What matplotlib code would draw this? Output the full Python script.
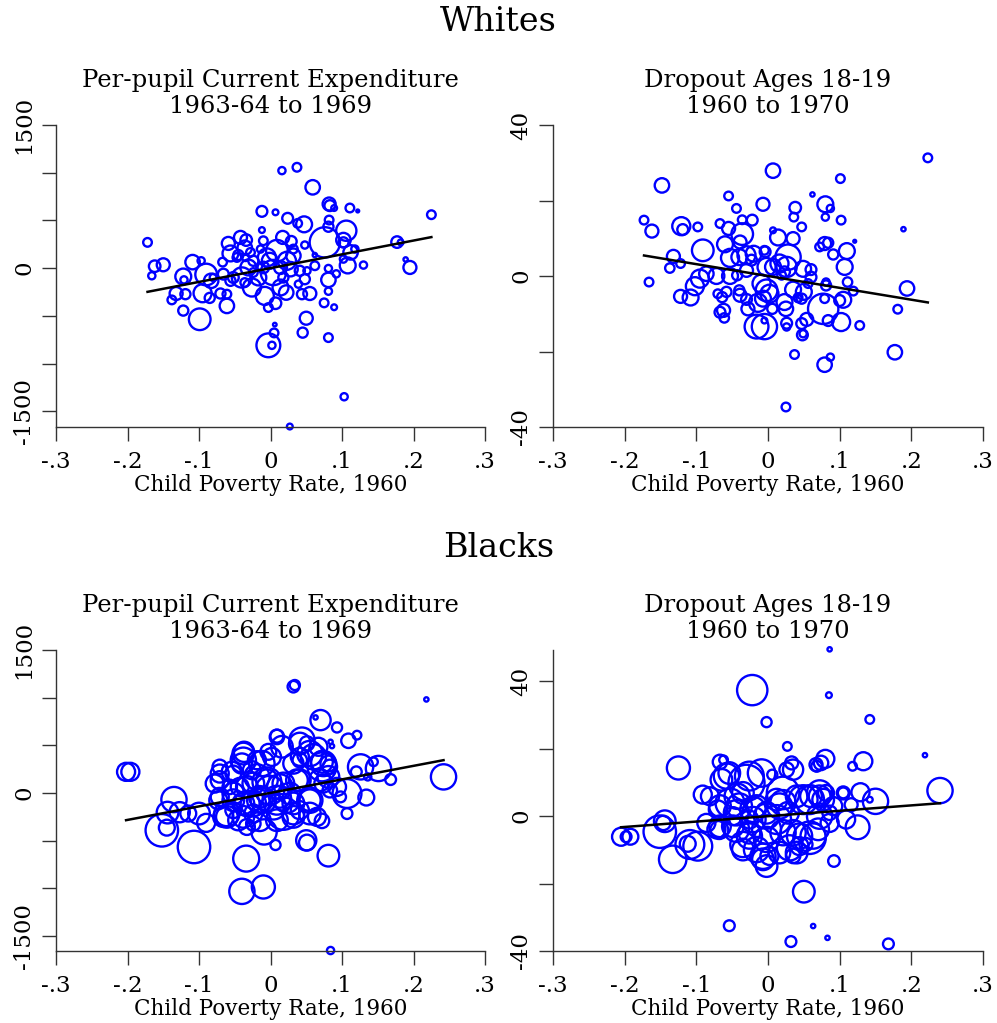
import numpy as np
import matplotlib
matplotlib.use('Agg')
import matplotlib.pyplot as plt

plt.rcParams['font.family'] = ['DejaVu Serif']

# ---------------- Whites, per-pupil current expenditure ----------------
wx_exp = [-0.172, -0.162, -0.150, -0.166, -0.109, -0.097, -0.122, -0.121, -0.132, -0.119,
          -0.138, -0.122, -0.099, -0.090, -0.095, -0.085, -0.083, -0.070, -0.061, -0.061,
          -0.067, -0.059, -0.056, -0.042, -0.034, -0.036, -0.045, -0.040, -0.026, -0.012,
          -0.010, -0.012, 0.007, 0.016, 0.037, 0.059, 0.082, 0.083, 0.089, 0.111,
          0.122, 0.024, 0.038, 0.047, 0.082, 0.081, 0.106, 0.076, 0.017, 0.029,
          0.048, 0.102, 0.102, 0.118, 0.112, 0.108, 0.102, 0.130, 0.177, 0.182,
          0.225, 0.189, 0.195, 0.081, 0.092, 0.081, 0.081, 0.075, 0.089, 0.050,
          0.045, 0.081, 0.103, 0.027, 0.006, 0.005, -0.003, 0.002, -0.003, 0.007,
          -0.008, -0.017, 0.004, -0.005, 0.009, 0.023, 0.032, 0.028, 0.041, 0.022,
          0.014, 0.044, 0.055, 0.048, 0.062, 0.051, 0.039, -0.024, -0.031, -0.047,
          -0.052, -0.056, -0.066, -0.036, -0.010, -0.001, 0.014, -0.080, -0.024, 0.018,
          0.032, -0.028, -0.035, -0.014, 0.062]
wy_exp = [270, 20, 35, -80, 63, 77, -88, -123, -266, -273,
          -333, -445, -536, -67, -263, -312, -133, -266, -273, -396,
          63, 259, 154, 322, 294, 214, 137, -98, -203, 399,
          287, 595, 585, 1022, 1057, 847, 672, 655, 630, 630,
          599, 522, 469, 459, 504, 434, 392, 270, 322, 280,
          242, 294, 270, 200, 165, 28, 95, 32, 273, 270,
          560, 91, 7, -4, -60, -123, -242, -364, -410, -525,
          -676, -728, -1348, -1660, -592, -679, -809, -809, -413, -368,
          -291, -98, -46, 112, 182, 77, 130, -11, -28, -256,
          -203, -273, -266, -116, 25, -28, -168, 77, 7, 112,
          -98, -133, -63, -151, 7, 77, 7, -98, -46, -98,
          200, 165, 112, 200, 137]
ww_exp = [12, 16, 18, 10, 20, 10, 22, 10, 18, 14,
          12, 14, 30, 30, 25, 14, 20, 14, 12, 20,
          12, 18, 22, 18, 16, 20, 14, 28, 25, 8,
          12, 15, 8, 10, 12, 20, 18, 15, 8, 12,
          4, 15, 12, 22, 12, 14, 28, 42, 18, 15,
          10, 20, 14, 10, 20, 22, 10, 10, 16, 8,
          12, 6, 18, 10, 10, 20, 10, 12, 8, 18,
          14, 12, 10, 8, 5, 12, 33, 10, 12, 16,
          25, 22, 35, 25, 30, 25, 20, 20, 14, 20,
          22, 14, 18, 14, 12, 10, 10, 14, 22, 12,
          15, 14, 15, 12, 16, 22, 18, 10, 12, 14,
          12, 12, 10, 10, 6]

# ---------------- Whites, dropout ages 18-19 ----------------
wx_drop = [-0.173, -0.162, -0.166, -0.148, -0.132, -0.137, -0.122, -0.121, -0.119, -0.098,
           -0.091, -0.122, -0.108, -0.102, -0.095, -0.086, -0.072, -0.070, -0.064, -0.058,
           -0.062, -0.067, -0.061, -0.055, -0.044, -0.036, -0.022, -0.067, -0.055, -0.036,
           -0.039, -0.060, -0.053, -0.040, -0.030, -0.020, -0.005, -0.007, 0.007, 0.007,
           0.014, 0.035, 0.038, 0.036, 0.047, 0.062, 0.080, 0.087, 0.080, 0.101,
           0.102, 0.223, 0.189, 0.121, 0.072, 0.079, 0.084, 0.091, 0.110, 0.107,
           0.111, 0.119, 0.105, 0.100, 0.102, 0.128, 0.194, 0.181, 0.177, 0.079,
           0.087, 0.037, 0.025, 0.048, 0.049, 0.047, 0.054, 0.026, 0.026, 0.025,
           0.023, 0.035, 0.050, 0.047, 0.042, 0.077, 0.084, 0.079, 0.081, 0.081,
           0.060, 0.060, 0.049, 0.028, 0.026, 0.016, 0.007, -0.002, -0.009, -0.002,
           0.002, -0.007, -0.014, -0.005, -0.016, -0.005, 0.006, -0.028, -0.030, -0.039,
           -0.040, -0.043, -0.053, -0.030, -0.023, -0.004, 0.019, 0.023, 0.056, 0.042]
wy_drop = [14.8, 11.9, -1.6, 24.0, 5.2, 2.1, 3.3, 13.2, 12.3, 13.0,
           6.8, -5.4, -5.7, -2.7, -0.7, 0.6, 0.0, -4.7, -5.6, -4.2,
           -9.1, -9.6, -11.1, 21.2, 17.9, 14.9, 14.8, 13.9, 12.6, 11.1,
           9.0, 8.4, 4.8, 5.0, 5.5, 5.9, 6.8, 19.0, 27.9, 12.1,
           10.2, 9.9, 18.1, 15.6, 13.0, 21.6, 19.0, 17.9, 15.6, 25.8,
           14.8, 31.3, 12.4, 9.2, 7.7, 8.6, 8.8, 5.7, 6.6, 2.4,
           -1.6, -4.0, -6.3, -6.5, -12.2, -13.1, -3.3, -8.8, -20.2, -23.5,
           -21.5, -20.8, -34.7, -15.6, -15.3, -12.6, -11.5, -12.5, -13.5, -8.7,
           -6.9, -3.6, -4.2, -6.0, -5.7, -8.7, -11.8, -6.0, -2.5, -1.6,
           1.7, -0.3, 1.9, 5.0, 2.4, 3.3, 2.4, 2.4, -2.0, -3.8,
           -4.7, -6.0, -7.1, -13.4, -13.4, -11.8, -8.7, -8.7, -6.2, -5.1,
           -3.8, 0.2, 0.0, 1.5, 4.2, 6.4, 0.2, 1.1, -2.0, -6.0]
ww_drop = [12, 18, 12, 20, 18, 13, 12, 25, 15, 12,
           30, 18, 22, 25, 25, 20, 22, 12, 14, 14,
           18, 15, 13, 12, 12, 12, 15, 12, 18, 30,
           18, 22, 25, 22, 25, 22, 12, 18, 20, 8,
           22, 18, 16, 12, 12, 6, 22, 10, 10, 12,
           12, 12, 6, 4, 12, 18, 14, 14, 22, 22,
           13, 12, 22, 15, 25, 12, 20, 12, 20, 20,
           10, 12, 12, 15, 10, 15, 18, 15, 10, 20,
           22, 22, 22, 14, 12, 42, 15, 12, 14, 10,
           15, 15, 22, 35, 28, 25, 22, 25, 25, 30,
           25, 22, 25, 35, 33, 8, 14, 18, 15, 18,
           14, 14, 22, 18, 15, 15, 12, 15, 12, 10]

# ---------------- Blacks, per-pupil current expenditure ----------------
bx_exp = [-0.202, -0.196, -0.152, -0.145, -0.135, -0.144, -0.127, -0.115, -0.107, -0.100,
          -0.090, -0.071, -0.071, -0.073, -0.061, -0.052, -0.045, -0.033, -0.024, -0.037,
          -0.038, -0.052, -0.043, -0.026, -0.012, -0.005, -0.015, -0.024, -0.009, 0.007,
          -0.034, -0.040, -0.010, 0.084, 0.032, 0.034, 0.218, 0.070, 0.063, 0.093,
          0.109, 0.121, 0.084, 0.086, 0.009, 0.016, 0.044, 0.051, 0.060, 0.072,
          0.072, 0.081, 0.081, 0.083, 0.098, 0.107, 0.107, 0.134, 0.126, 0.120,
          0.136, 0.151, 0.144, 0.168, 0.242, 0.050, 0.051, 0.081, 0.072, 0.065,
          0.055, 0.041, 0.032, 0.018, 0.009, -0.001, 0.013, 0.027, 0.041, 0.032,
          0.041, -0.019, -0.033, -0.052, -0.038, -0.024, -0.066, -0.003, 0.041, 0.067,
          -0.015, 0.004, 0.023, 0.069, 0.093, -0.078, -0.057,
          -0.071, -0.054, -0.038, -0.040, -0.019, 0.002, 0.009, 0.041, 0.055, 0.074,
          -0.024, -0.005, 0.018, 0.037, -0.052, -0.033, -0.010, 0.013, 0.032, 0.055,
          -0.061, -0.038, -0.015, 0.009, 0.032, 0.055, 0.074, 0.083, -0.071]
by_exp = [221, 221, -393, -365, -70, -207, -203, -217, -568, -217,
          -315, 203, 273, -77, -217, -182, -287, -358, -322, 431,
          343, 203, 63, 238, 308, 116, -77, -112, -410, -547,
          -690, -1034, -988, -1655, 1115, 1132, 981, 764, 792, 687,
          547, 606, 536, 491, 596, 484, 554, 519, 379, 273,
          326, 308, 168, 28, -42, -7, -217, -49, 273, 221,
          168, 256, 326, 140, 168, -498, -522, -659, -294, -252,
          -77, -182, -217, -217, -77, 28, 63, -7, 133, 308,
          379, 168, 63, -7, -112, -217, -252, 431, 343, 484,
          -42, -147, -77, 133, 63, 98, 63,
          133, 220, 413, 308, 343, 378, 587, 518, 413, 308,
          99, 133, 99, 133, -77, -111, -77, -42, -111, -77,
          -252, -252, -287, -287, -252, -217, 99, 273, -42]
bw_exp = [25, 25, 45, 22, 35, 30, 28, 22, 45, 30,
          25, 25, 20, 25, 35, 22, 28, 22, 20, 28,
          35, 22, 25, 25, 35, 40, 35, 35, 35, 14,
          36, 35, 32, 10, 16, 14, 6, 28, 6, 14,
          20, 12, 6, 6, 18, 30, 35, 20, 35, 40,
          30, 22, 30, 20, 15, 40, 15, 22, 35, 15,
          10, 35, 12, 15, 35, 28, 22, 30, 20, 25,
          30, 25, 30, 45, 40, 40, 35, 30, 30, 28,
          25, 35, 30, 30, 30, 25, 28, 22, 20, 25,
          30, 35, 35, 30, 25, 25, 20,
          25, 28, 30, 28, 25, 25, 20, 30, 35, 35,
          30, 30, 30, 30, 30, 35, 35, 30, 30, 35,
          30, 30, 30, 30, 30, 30, 25, 20, 25]

# ---------------- Blacks, dropout ages 18-19 ----------------
bx_drop = [-0.205, -0.192, -0.198, -0.151, -0.144, -0.146, -0.133, -0.125, -0.109, -0.112,
           -0.098, -0.091, -0.067, -0.062, -0.065, -0.054, -0.070, -0.068, -0.053, -0.043,
           -0.030, -0.009, 0.006, -0.022, -0.002, 0.027, 0.086, 0.085, 0.142, 0.219,
           0.033, 0.035, 0.067, 0.074, 0.080, 0.118, 0.133, 0.240, 0.150, 0.142,
           0.129, 0.105, 0.116, 0.109, 0.125, 0.092, 0.050, -0.054, 0.063, 0.083,
           0.032, 0.168, -0.002, -0.007, -0.016, -0.035, -0.026, -0.002, 0.012, 0.021,
           0.016, 0.035, 0.030, 0.044, 0.058, 0.070, 0.072, 0.049, 0.060, 0.077,
           0.086, 0.072, 0.081, -0.040, -0.049, -0.021, -0.002, -0.016, 0.012, 0.028,
           0.035, 0.053, -0.072, -0.049, 0.002, -0.026,
           -0.058, -0.026, -0.035, -0.067, -0.044, -0.021, -0.002, 0.021, 0.040, 0.058,
           0.072, -0.067, -0.044, -0.026, -0.002, 0.021, 0.044, 0.063, -0.007, 0.016,
           0.040, -0.035, -0.086, -0.081, 0.091, 0.086, 0.105, 0.026, 0.068]
by_drop = [-6.1, -6.1, -6.1, -4.6, -1.5, -2.0, -12.8, 14.3, -8.4, -8.2,
           -8.9, 6.4, 16.1, 16.7, 10.8, 12.8, 2.0, -4.1, 3.9, 5.9,
           9.9, 12.8, 12.3, 37.4, 27.9, 20.7, 49.5, 35.9, 28.7, 18.1,
           15.8, 13.8, 15.3, 15.8, 17.0, 14.8, 16.3, 7.6, 4.4, 4.9,
           7.1, 6.9, 3.4, -1.0, -3.3, -13.3, -22.4, -32.5, -32.6, -36.1,
           -37.2, -37.9, -14.8, -12.8, -9.9, -8.4, -4.9, -3.9, -1.0, 6.9,
           3.0, -4.9, -9.4, -8.9, -6.4, -3.9, 0.0, 4.9, 5.9, 4.9,
           1.0, 6.9, 6.9, 3.0, -3.0, -1.0, 1.0, 3.0, 4.9, 1.0,
           -11.8, -8.4, -3.9, 0.0, -11.8, -1.0,
           11.9, 11.9, 6.9, 3.0, 1.0, 2.0, 0.0, 4.0, 5.9, 4.9,
           5.9, -3.0, -3.9, -5.9, -6.9, -4.9, -5.9, -5.9, -11.9, -10.8,
           -10.8, -9.9, -2.0, 5.9, 3.0, -2.0, 6.9, 13.8, 14.8]
bw_drop = [25, 22, 15, 45, 30, 20, 38, 32, 40, 22,
           40, 25, 20, 12, 30, 30, 25, 25, 40, 35,
           50, 38, 14, 42, 14, 12, 6, 8, 12, 6,
           18, 28, 18, 20, 25, 12, 25, 35, 35, 8,
           25, 18, 18, 25, 33, 16, 30, 15, 6, 6,
           15, 15, 30, 30, 35, 35, 30, 40, 40, 45,
           35, 35, 35, 25, 45, 30, 35, 40, 30, 30,
           20, 35, 22, 35, 30, 35, 30, 30, 30, 30,
           20, 18, 25, 25, 25, 25,
           35, 40, 30, 30, 35, 35, 35, 35, 30, 40,
           30, 30, 35, 35, 35, 35, 35, 35, 35, 30,
           30, 30, 25, 25, 25, 25, 15, 20, 15]

# fitted slopes (intercepts ~0)
slopes = [1445, -31.4, 1419, 16.0]

titles = ['Per-pupil Current Expenditure\n1963-64 to 1969', 'Dropout Ages 18-19\n1960 to 1970']
xticks = [-0.3, -0.2, -0.1, 0, 0.1, 0.2, 0.3]
xticklabels = ['-.3', '-.2', '-.1', '0', '.1', '.2', '.3']
exp_ticks = [-1500, -1000, -500, 0, 500, 1000, 1500]
exp_labels = ['-1500', '', '', '0', '', '', '1500']
drop_ticks = [-40, -20, 0, 20, 40]
drop_labels = ['-40', '', '0', '', '40']

fig = plt.figure(figsize=(9.97, 10.23), dpi=100)
W, H = 997.0, 1023.0

def box(l, t, r, b):
    return [l / W, 1 - b / H, (r - l) / W, (b - t) / H]

panels = [
    (box(56, 125, 485, 427), wx_exp, wy_exp, ww_exp, titles[0], exp_ticks, exp_labels, (-1665, 1500), slopes[0]),
    (box(553, 125, 983, 427), wx_drop, wy_drop, ww_drop, titles[1], drop_ticks, drop_labels, (-40, 40), slopes[1]),
    (box(56, 650, 485, 951), bx_exp, by_exp, bw_exp, titles[0], exp_ticks, exp_labels, (-1660, 1500), slopes[2]),
    (box(553, 650, 983, 951), bx_drop, by_drop, bw_drop, titles[1], drop_ticks, drop_labels, (-40, 49.3), slopes[3]),
]

for rect, xs, ys, ws, title, yt, ylab, ylim, b in panels:
    ax = fig.add_axes(rect)
    xs = np.array(xs)
    ys = np.array(ys)
    ws = np.array(ws)
    ax.scatter(xs, ys, s=0.27 * ws ** 2, facecolors='none', edgecolors='blue',
               linewidths=1.7, clip_on=False, zorder=2)
    xl = np.array([xs.min(), xs.max()])
    ax.plot(xl, b * xl, color='black', lw=1.8, zorder=3)
    ax.set_xlim(-0.3, 0.3)
    ax.set_ylim(*ylim)
    ax.set_xticks(xticks)
    ax.set_xticklabels(xticklabels, fontsize=16.5)
    ax.set_yticks(yt)
    ax.set_yticklabels(ylab, fontsize=16.5, rotation=90, va='center')
    ax.tick_params(length=10, width=1, color='#333333')
    ax.tick_params(axis='x', pad=7)
    ax.tick_params(axis='y', pad=5)
    for side in ['top', 'right']:
        ax.spines[side].set_visible(False)
    for side in ['left', 'bottom']:
        ax.spines[side].set_color('#333333')
        ax.spines[side].set_linewidth(1)
    ax.set_xlabel('Child Poverty Rate, 1960', fontsize=15.5, labelpad=1)
    ax.set_title(title, fontsize=17.5, linespacing=1.15, pad=9)

fig.text(0.5, 1 - 22 / H, 'Whites', ha='center', va='center', fontsize=24)
fig.text(0.5, 1 - 548 / H, 'Blacks', ha='center', va='center', fontsize=24)

fig.savefig('out.png', dpi=100)
